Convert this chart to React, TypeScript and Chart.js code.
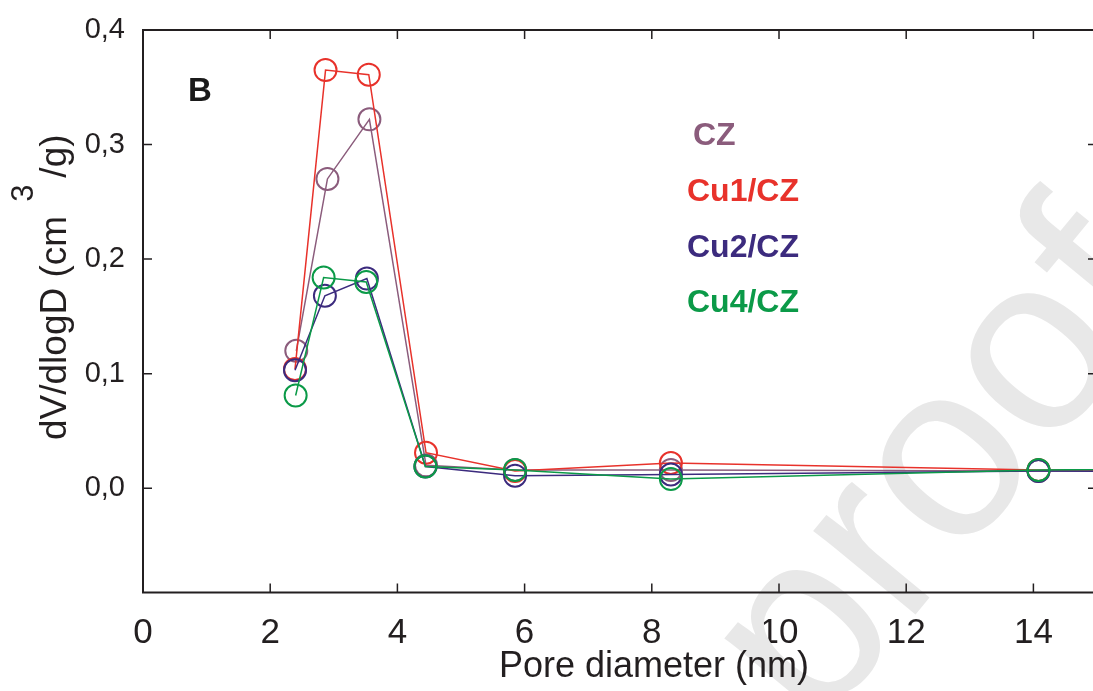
import { useEffect, useRef } from "react";
import { Chart, registerables } from "chart.js";

Chart.register(...registerables);

// Pore size distribution (BJH), dV/dlogD vs pore diameter
const poreCZ = [2.41, 2.9, 3.56, 4.45, 5.85, 8.3, 14.08, 20];
const dvCZ = [0.12, 0.27, 0.322, 0.02, 0.016, 0.016, 0.015, 0.015];
const poreCu1 = [2.39, 2.87, 3.55, 4.45, 5.85, 8.3, 14.08, 20];
const dvCu1 = [0.104, 0.365, 0.361, 0.031, 0.015, 0.022, 0.016, 0.015];
const poreCu2 = [2.39, 2.86, 3.52, 4.44, 5.85, 8.3, 14.08, 20];
const dvCu2 = [0.103, 0.168, 0.183, 0.019, 0.011, 0.012, 0.015, 0.014];
const poreCu4 = [2.4, 2.84, 3.51, 4.44, 5.85, 8.3, 14.08, 20];
const dvCu4 = [0.081, 0.184, 0.18, 0.019, 0.016, 0.008, 0.016, 0.018];

const seriesNames = ["CZ", "Cu1/CZ", "Cu2/CZ", "Cu4/CZ"];
const seriesColors = ["#8b5c7c", "#e8322b", "#3c2b7e", "#0b9a48"];
const xTickValues = [0, 2, 4, 6, 8, 10, 12, 14];
const yTickValues = [0, 0.1, 0.2, 0.3, 0.4];
const xTitle = "Pore diameter (nm)";
const yTitleMain = "dV/dlogD (cm";
const yTitleSup = "3";
const yTitleEnd = "/g)";
const panelLetter = "B";
const watermark = "proofs";

const INK = "#231f20";
const FONT = '"Liberation Sans", Arial, sans-serif';
const NARROW = '"Liberation Sans Narrow", "Arial Narrow", "Liberation Sans", sans-serif';

const toPoints = (xs: number[], ys: number[]) => xs.map((x, i) => ({ x, y: ys[i] }));

const decorations = {
  id: "decorations",
  beforeDatasetsDraw(chart: any) {
    const { ctx } = chart;
    ctx.save();
    ctx.translate(816, 735);
    ctx.rotate((-50.5 * Math.PI) / 180);
    ctx.font = `250px ${FONT}`;
    ctx.fillStyle = "#e8e8e8";
    ctx.textBaseline = "alphabetic";
    ctx.fillText(watermark, 0, 0);
    ctx.restore();
  },
  afterDraw(chart: any) {
    const { ctx, chartArea, scales } = chart;
    const { left, right, top, bottom } = chartArea;
    const xs = scales.x;
    const ys = scales.y;
    const tick = 9;
    ctx.save();
    ctx.strokeStyle = INK;
    ctx.lineWidth = 2;
    ctx.beginPath();
    ctx.rect(left, top, right - left, bottom - top);
    ctx.stroke();
    ctx.lineWidth = 1.5;
    ctx.beginPath();
    xTickValues.forEach((v) => {
      if (v === 0) return;
      const px = xs.getPixelForValue(v);
      ctx.moveTo(px, bottom);
      ctx.lineTo(px, bottom - tick);
      ctx.moveTo(px, top);
      ctx.lineTo(px, top + tick);
    });
    yTickValues.forEach((v) => {
      if (v === 0.4) return;
      const py = ys.getPixelForValue(v);
      ctx.moveTo(left, py);
      ctx.lineTo(left + tick, py);
      ctx.moveTo(right, py);
      ctx.lineTo(right - tick, py);
    });
    ctx.stroke();

    // axis titles
    ctx.fillStyle = INK;
    ctx.font = `36px ${FONT}`;
    ctx.textAlign = "center";
    ctx.textBaseline = "alphabetic";
    ctx.fillText(xTitle, 654, 677);

    ctx.save();
    ctx.translate(66, 440);
    ctx.rotate(-Math.PI / 2);
    ctx.textAlign = "left";
    ctx.font = `37px ${FONT}`;
    ctx.fillText(yTitleMain, 0, 0);
    const w1 = ctx.measureText(yTitleMain).width;
    ctx.font = `31px ${FONT}`;
    ctx.fillText(yTitleSup, w1 + 14, -33);
    const w2 = ctx.measureText(yTitleSup).width;
    ctx.font = `37px ${FONT}`;
    ctx.fillText(yTitleEnd, w1 + 14 + w2 + 7, 0);
    ctx.restore();

    // panel letter
    ctx.font = `bold 33px ${FONT}`;
    ctx.textAlign = "left";
    ctx.fillStyle = "#1a1a1a";
    ctx.fillText(panelLetter, 188, 101);

    // series labels
    const labelX = [693, 687, 687, 687];
    const labelY = [145, 201, 257, 312];
    ctx.font = `bold 32px ${FONT}`;
    seriesNames.forEach((name, i) => {
      ctx.fillStyle = seriesColors[i];
      ctx.fillText(name, labelX[i], labelY[i]);
    });
    ctx.restore();
  },
};

export default function App() {
  const canvasRef = useRef<HTMLCanvasElement | null>(null);

  useEffect(() => {
    const canvas = canvasRef.current;
    if (!canvas) return;
    const pointSets = [
      toPoints(poreCZ, dvCZ),
      toPoints(poreCu1, dvCu1),
      toPoints(poreCu2, dvCu2),
      toPoints(poreCu4, dvCu4),
    ];
    const drawOrder = [3, 2, 1, 0];
    const chart = new Chart(canvas, {
      type: "scatter",
      data: {
        datasets: pointSets.map((pts, i) => ({
          label: seriesNames[i],
          data: pts,
          showLine: true,
          order: drawOrder[i],
          borderColor: seriesColors[i],
          borderWidth: 1.5,
          backgroundColor: "rgba(0,0,0,0)",
          pointBorderColor: seriesColors[i],
          pointBackgroundColor: "rgba(0,0,0,0)",
          pointBorderWidth: 2,
          pointRadius: 11,
          pointHoverRadius: 11,
        })),
      },
      options: {
        responsive: false,
        animation: false,
        devicePixelRatio: 1,
        events: [],
        layout: { padding: { top: 30, right: 10.4, left: 0, bottom: 0 } },
        plugins: { legend: { display: false }, tooltip: { enabled: false } },
        scales: {
          x: {
            type: "linear",
            position: "bottom",
            min: 0,
            max: 15,
            grid: { display: false, drawTicks: false },
            border: { display: false },
            ticks: {
              color: INK,
              font: { family: NARROW, size: 35 },
              padding: 20,
              maxRotation: 0,
              autoSkip: false,
            },
            afterBuildTicks: (s: any) => {
              s.ticks = xTickValues.map((value) => ({ value }));
            },
            afterFit: (s: any) => {
              s.height = 98.5;
              s.paddingLeft = 0;
              s.paddingRight = 0;
            },
          },
          y: {
            type: "linear",
            min: -0.091,
            max: 0.4,
            grid: { display: false, drawTicks: false },
            border: { display: false },
            ticks: {
              color: INK,
              font: { family: FONT, size: 29 },
              padding: 18,
              callback: (v: any) => Number(v).toFixed(1).replace(".", ","),
            },
            afterBuildTicks: (s: any) => {
              s.ticks = yTickValues.map((value) => ({ value }));
            },
            afterFit: (s: any) => {
              s.width = 143;
              s.paddingTop = 0;
              s.paddingBottom = 0;
            },
          },
        },
      },
      plugins: [decorations],
    });
    return () => chart.destroy();
  }, []);

  return (
    <div
      style={{
        position: "fixed",
        left: 0,
        top: 0,
        width: 1093,
        height: 691,
        overflow: "hidden",
        background: "#ffffff",
      }}
    >
      <canvas ref={canvasRef} width={1110} height={691} style={{ display: "block" }} />
    </div>
  );
}
